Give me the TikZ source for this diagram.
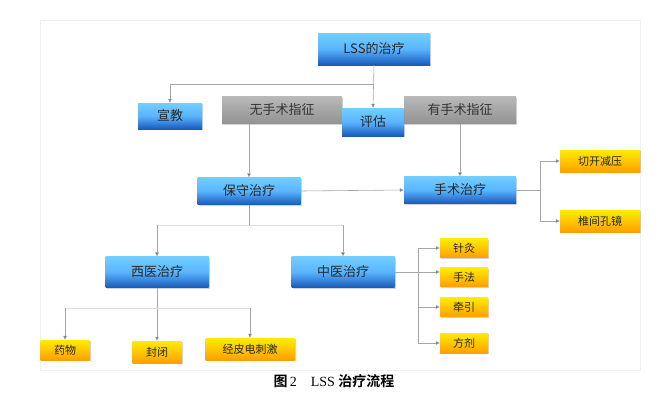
\documentclass[tikz,border=0pt]{standalone}
\usepackage{fontspec}
\newfontfamily\cjk{Noto Sans CJK SC}
\newfontfamily\cjkb{Noto Sans CJK SC Bold}
\setmainfont{Liberation Serif}
\usetikzlibrary{shadows,arrows.meta}
\begin{document}
\begin{tikzpicture}[x=1pt,y=-1pt,
  base/.style={draw=none,inner sep=0pt,font=\cjk\fontsize{13}{13}\selectfont,text=black!85,drop shadow={shadow xshift=1pt,shadow yshift=-1pt,opacity=0.35}},
  bluebox/.style={base,top color=blue!35!cyan!55!white,bottom color=blue!60!cyan!70!black!90,middle color=blue!45!cyan!65},
  graybox/.style={base,top color=gray!55,bottom color=gray!85,text=black!80},
  yelbox/.style={base,top color=yellow!85!orange,bottom color=orange!75!yellow,font=\cjk\fontsize{11}{11}\selectfont},
  ln/.style={draw=gray!70,line width=0.6pt},
  arr/.style={ln,-{Triangle[length=4pt,width=3.5pt,fill=blue!50!gray]}}]
\useasboundingbox (0,0) rectangle (669,402);
\draw[gray!12] (40,20) rectangle (640,370);
% nodes
\node[bluebox,minimum width=112,minimum height=32] (lss) at (374,49) {LSS的治疗};
\node[bluebox,minimum width=64,minimum height=26] (xj) at (170,116) {宣教};
\node[graybox,minimum width=120,minimum height=27] (wu) at (282,110) {无手术指征};
\node[graybox,minimum width=112,minimum height=27] (you) at (460,110) {有手术指征};
\node[bluebox,minimum width=62,minimum height=28] (pg) at (373,122) {评估};
\node[bluebox,minimum width=103,minimum height=27] (bs) at (249,191) {保守治疗};
\node[bluebox,minimum width=112,minimum height=27] (ss) at (460,190) {手术治疗};
\node[yelbox,minimum width=80,minimum height=22] (qk) at (600,161) {切开减压};
\node[yelbox,minimum width=80,minimum height=22] (zj) at (600,221) {椎间孔镜};
\node[bluebox,minimum width=103,minimum height=31] (xy) at (157,272) {西医治疗};
\node[bluebox,minimum width=103,minimum height=31] (zy) at (343,272) {中医治疗};
\node[yelbox,minimum width=48,minimum height=19] (zjj) at (464,248) {针灸};
\node[yelbox,minimum width=48,minimum height=19] (sf) at (464,277) {手法};
\node[yelbox,minimum width=48,minimum height=19] (qy) at (464,307) {牵引};
\node[yelbox,minimum width=48,minimum height=20] (fj) at (464,343) {方剂};
\node[yelbox,minimum width=49,minimum height=20] (yw) at (65,350) {药物};
\node[yelbox,minimum width=49,minimum height=22] (fb) at (157,352) {封闭};
\node[yelbox,minimum width=89,minimum height=22] (jp) at (250,349) {经皮电刺激};
\node[font=\fontsize{14}{14}\selectfont] (cap) at (334,381) {{\cjkb 图}\,2\quad LSS {\cjkb 治疗流程}};
% connectors
\coordinate (a1) at (374,84);
\draw[arr] (lss.south) -- (pg.north);
\draw[arr] (a1) -| (xj.north);
\draw[arr] (249,124) -- (bs.north);
\draw[arr] (you.south) -- (ss.north);
\draw[arr] (bs.east) -- (ss.west);
\coordinate (b1) at (540,190);
\draw[ln] (ss.east) -- (b1);
\draw[arr] (b1) |- (qk.west);
\draw[arr] (b1) |- (zj.west);
\coordinate (c1) at (249,225);
\draw[ln] (bs.south) -- (c1);
\draw[gray!25] (157,225) -- (343,225);
\draw[arr] (157,225) -- (xy.north);
\draw[arr] (343,225) -- (zy.north);
\coordinate (d1) at (418,272);
\draw[ln] (zy.east) -- (d1);
\draw[ln] (418,248) -- (418,343);
\draw[arr] (418,248) -- (zjj.west);
\draw[arr] (d1) -- (sf.west |- d1);
\draw[arr] (418,307) -- (qy.west);
\draw[arr] (418,343) -- (fj.west);
\draw[arr] (xy.south) -- (fb.north);
\draw[gray!25] (65,308) -- (250,308);
\draw[arr] (65,308) -- (yw.north);
\draw[arr] (250,308) -- (jp.north);
\end{tikzpicture}
\end{document}
